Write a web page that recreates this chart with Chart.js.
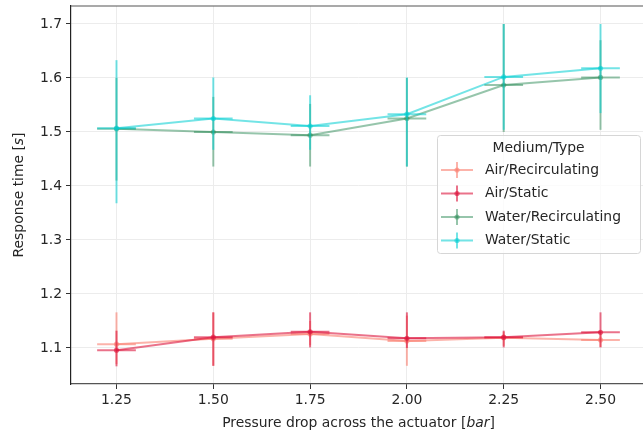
<!DOCTYPE html>
<html>
<head>
<meta charset="utf-8">
<script src="https://cdn.jsdelivr.net/npm/chart.js@4/dist/chart.umd.min.js"></script>
<style>
  html, body { margin: 0; padding: 0; background: #fff; overflow: hidden; }
  #wrap { width: 660px; height: 437px; }
</style>
</head>
<body>
<div id="wrap"><canvas id="chart" width="660" height="437"></canvas></div>
<script>
// pressure drop [bar]
const pressures = [1.25, 1.50, 1.75, 2.00, 2.25, 2.50];
const xErr = 0.05;

const xTicks = [1.25, 1.50, 1.75, 2.00, 2.25, 2.50];
const yTicks = [1.1, 1.2, 1.3, 1.4, 1.5, 1.6, 1.7];

const seriesLabels = ["Air/Recirculating", "Air/Static", "Water/Recirculating", "Water/Static"];

// mean response time and error bar ends
const airRecirc     = [1.107, 1.117, 1.126, 1.113, 1.119, 1.115];
const airRecircLow  = [1.070, 1.067, 1.105, 1.067, 1.104, 1.102];
const airRecircHigh = [1.166, 1.166, 1.150, 1.160, 1.130, 1.128];

const airStatic     = [1.096, 1.120, 1.130, 1.118, 1.120, 1.129];
const airStaticLow  = [1.066, 1.067, 1.101, 1.100, 1.101, 1.101];
const airStaticHigh = [1.132, 1.166, 1.166, 1.166, 1.132, 1.166];

const waterRecirc     = [1.506, 1.500, 1.494, 1.525, 1.587, 1.601];
const waterRecircLow  = [1.410, 1.436, 1.436, 1.436, 1.500, 1.504];
const waterRecircHigh = [1.600, 1.565, 1.552, 1.600, 1.700, 1.670];

const waterStatic     = [1.507, 1.525, 1.511, 1.533, 1.602, 1.618];
const waterStaticLow  = [1.368, 1.467, 1.467, 1.436, 1.504, 1.535];
const waterStaticHigh = [1.633, 1.601, 1.568, 1.601, 1.700, 1.700];

const colors = [
    "rgba(250,128,114,0.6)",
    "rgba(220,20,60,0.6)",
    "rgba(46,139,87,0.5)",
    "rgba(0,206,209,0.55)"
];

const means = [airRecirc, airStatic, waterRecirc, waterStatic];
const lows = [airRecircLow, airStaticLow, waterRecircLow, waterStaticLow];
const highs = [airRecircHigh, airStaticHigh, waterRecircHigh, waterStaticHigh];

const FONT = "DejaVu Sans";
const TEXT = "#262626";

// error bars, drawn right after each dataset so the layering follows the series
const errorBars = {
    id: "errorBars",
    afterDatasetDraw(chart, args) {
        const i = args.index;
        const x = chart.scales.x, y = chart.scales.y;
        const ctx = chart.ctx;
        ctx.save();
        ctx.strokeStyle = colors[i];
        ctx.lineWidth = 2;
        pressures.forEach((p, j) => {
            const px = x.getPixelForValue(p);
            const py = y.getPixelForValue(means[i][j]);
            ctx.beginPath();
            ctx.moveTo(px, y.getPixelForValue(lows[i][j]));
            ctx.lineTo(px, y.getPixelForValue(highs[i][j]));
            ctx.stroke();
            ctx.beginPath();
            ctx.moveTo(x.getPixelForValue(p - xErr), py);
            ctx.lineTo(x.getPixelForValue(p + xErr), py);
            ctx.stroke();
        });
        ctx.restore();
    }
};

function drawMixed(ctx, parts, cx, cy) {
    let total = 0;
    parts.forEach(pt => {
        ctx.font = (pt[1] ? "italic " : "") + "13.9px '" + FONT + "'";
        total += ctx.measureText(pt[0]).width;
    });
    let xx = cx - total / 2;
    ctx.textAlign = "left";
    ctx.textBaseline = "middle";
    parts.forEach(pt => {
        ctx.font = (pt[1] ? "italic " : "") + "13.9px '" + FONT + "'";
        ctx.fillText(pt[0], xx, cy);
        xx += ctx.measureText(pt[0]).width;
    });
}

// axis titles, top spine and the legend box inside the axes
const decorations = {
    id: "decorations",
    afterDraw(chart) {
        const ctx = chart.ctx;
        const a = chart.chartArea;
        ctx.save();
        ctx.fillStyle = TEXT;

        // top spine
        ctx.strokeStyle = "#555";
        ctx.lineWidth = 1.2;
        ctx.beginPath();
        ctx.moveTo(a.left, a.top);
        ctx.lineTo(a.right, a.top);
        ctx.stroke();

        drawMixed(ctx, [["Pressure drop across the actuator [", false], ["bar", true], ["]", false]],
            (a.left + a.right) / 2, 423);

        ctx.save();
        ctx.translate(19, (a.top + a.bottom) / 2);
        ctx.rotate(-Math.PI / 2);
        drawMixed(ctx, [["Response time [", false], ["s", true], ["]", false]], 0, 0);
        ctx.restore();

        // legend
        const bx = 437, by = 135, bw = 203, bh = 118;
        ctx.beginPath();
        ctx.roundRect(bx + 0.5, by + 0.5, bw, bh, 3);
        ctx.fillStyle = "rgba(255,255,255,0.8)";
        ctx.fill();
        ctx.strokeStyle = "#d6d6d6";
        ctx.lineWidth = 1;
        ctx.stroke();

        ctx.fillStyle = TEXT;
        ctx.font = "13.9px '" + FONT + "'";
        ctx.textAlign = "center";
        ctx.textBaseline = "middle";
        ctx.fillText("Medium/Type", bx + bw / 2, 148);

        const rows = [170, 193.5, 217, 240.5];
        seriesLabels.forEach((lab, i) => {
            const ry = rows[i];
            ctx.strokeStyle = colors[i];
            ctx.lineWidth = 2;
            ctx.beginPath();
            ctx.moveTo(441, ry);
            ctx.lineTo(473, ry);
            ctx.stroke();
            ctx.beginPath();
            ctx.moveTo(457, ry - 8);
            ctx.lineTo(457, ry + 8);
            ctx.stroke();
            ctx.fillStyle = colors[i];
            ctx.beginPath();
            ctx.arc(457, ry, 2.6, 0, Math.PI * 2);
            ctx.fill();
            ctx.fillStyle = TEXT;
            ctx.textAlign = "left";
            ctx.fillText(lab, 485, ry);
        });
        ctx.restore();
    }
};

const datasets = seriesLabels.map((lab, i) => ({
    label: lab,
    data: pressures.map((p, j) => ({ x: p, y: means[i][j] })),
    borderColor: colors[i],
    backgroundColor: colors[i],
    borderWidth: 2,
    pointRadius: 2.6,
    pointBorderWidth: 0,
    pointBackgroundColor: colors[i],
    tension: 0,
    order: seriesLabels.length - i
}));

new Chart(document.getElementById("chart"), {
    type: "line",
    data: { datasets: datasets },
    options: {
        responsive: false,
        animation: false,
        devicePixelRatio: 1,
        layout: { padding: { top: 6, right: 14, left: 0, bottom: 0 } },
        plugins: {
            legend: { display: false },
            tooltip: { enabled: false }
        },
        scales: {
            x: {
                type: "linear",
                min: 1.1325,
                max: 2.6175,
                afterBuildTicks: scale => { scale.ticks = xTicks.map(v => ({ value: v })); },
                afterFit: scale => { scale.height = 53; scale.paddingLeft = 0; scale.paddingRight = 0; },
                ticks: {
                    callback: v => v.toFixed(2),
                    font: { family: FONT, size: 13.9 },
                    color: TEXT,
                    padding: 3,
                    maxRotation: 0
                },
                grid: { color: "#ececec", lineWidth: 1, tickLength: 5, tickColor: "#333", tickWidth: 1 },
                border: { display: true, color: "#555", width: 1.2 }
            },
            y: {
                type: "linear",
                min: 1.0333,
                max: 1.7333,
                afterBuildTicks: scale => { scale.ticks = yTicks.map(v => ({ value: v })); },
                afterFit: scale => { scale.width = 71; scale.paddingTop = 0; scale.paddingBottom = 0; },
                ticks: {
                    callback: v => v.toFixed(1),
                    font: { family: FONT, size: 13.9 },
                    color: TEXT,
                    padding: 4
                },
                grid: { color: "#ececec", lineWidth: 1, tickLength: 5, tickColor: "#333", tickWidth: 1 },
                border: { display: true, color: "#222", width: 1.2 }
            }
        }
    },
    plugins: [errorBars, decorations]
});
</script>
</body>
</html>
